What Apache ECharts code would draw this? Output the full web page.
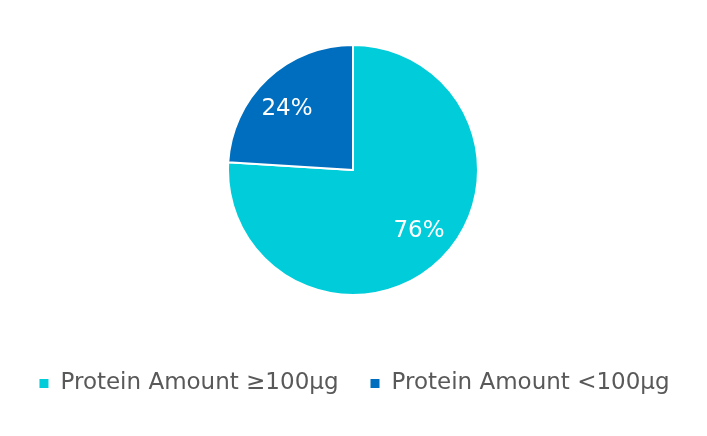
<!DOCTYPE html>
<html>
<head>
<meta charset="utf-8">
<script src="https://cdn.jsdelivr.net/npm/echarts@6/dist/echarts.min.js"></script>
<style>
  html, body { margin: 0; padding: 0; background: #fff; }
  #main { width: 707px; height: 436px; }
</style>
</head>
<body>
<div id="main"></div>
<script>
// chart data
var categories = ['Protein Amount ≥100µg', 'Protein Amount <100µg'];
var shares = [76, 24];
var colors = ['#00CDD9', '#006EBF'];

function buildData() {
    var data = [];
    for (var i = 0; i < categories.length; i++) {
        data.push({ name: categories[i], value: shares[i], itemStyle: { color: colors[i] } });
    }
    return data;
}

var myChart = echarts.init(document.getElementById('main'));
var font = 'DejaVu Sans';

var option = {
    animation: false,
    legend: {
        data: categories,
        bottom: 36,
        left: 'center',
        icon: 'rect',
        itemWidth: 11,
        itemHeight: 11,
        itemGap: 30,
        textStyle: { fontFamily: font, fontSize: 23, color: '#595959', padding: [0, 0, 0, 6] }
    },
    series: [
        {
            // the pie itself
            type: 'pie',
            center: [353, 170],
            radius: [0, 125],
            startAngle: 90,
            clockwise: true,
            label: { show: false },
            labelLine: { show: false },
            itemStyle: { borderColor: '#fff', borderWidth: 2 },
            emphasis: { disabled: true },
            data: buildData()
        },
        {
            // transparent ring just to place the percent labels
            type: 'pie',
            center: [353, 170],
            radius: [49, 125],
            startAngle: 94,
            clockwise: true,
            silent: true,
            itemStyle: { color: 'rgba(0,0,0,0)' },
            label: {
                show: true,
                position: 'inside',
                formatter: '{c}%',
                color: '#fff',
                fontFamily: font,
                fontSize: 23
            },
            labelLine: { show: false },
            emphasis: { disabled: true },
            data: categories.map(function (c, i) { return { name: c, value: shares[i] }; })
        }
    ]
};

myChart.setOption(option);
</script>
</body>
</html>
